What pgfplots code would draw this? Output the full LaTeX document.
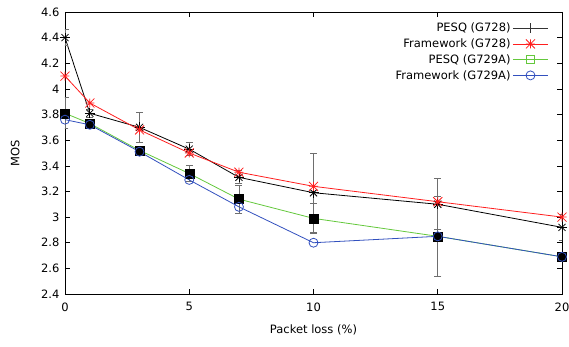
\documentclass[border=0pt]{standalone}
\usepackage{pgfplots}
\pgfplotsset{compat=1.18}
\usepackage{fontspec}
\setmainfont{DejaVu Sans}
\definecolor{cred}{RGB}{255,30,30}
\definecolor{cgreen}{RGB}{100,200,60}
\definecolor{cblue}{RGB}{50,80,190}
\definecolor{cerr}{RGB}{110,110,110}
\pgfdeclareplotmark{ast8}{%
  \pgfpathmoveto{\pgfqpoint{-\pgfplotmarksize}{0pt}}\pgfpathlineto{\pgfqpoint{\pgfplotmarksize}{0pt}}%
  \pgfpathmoveto{\pgfqpoint{0pt}{-\pgfplotmarksize}}\pgfpathlineto{\pgfqpoint{0pt}{\pgfplotmarksize}}%
  \pgfpathmoveto{\pgfqpoint{-\pgfplotmarksize}{-\pgfplotmarksize}}\pgfpathlineto{\pgfqpoint{\pgfplotmarksize}{\pgfplotmarksize}}%
  \pgfpathmoveto{\pgfqpoint{-\pgfplotmarksize}{\pgfplotmarksize}}\pgfpathlineto{\pgfqpoint{\pgfplotmarksize}{-\pgfplotmarksize}}%
  \pgfusepathqstroke}
\pgfplotstableread{
x y e
0 4.40 0.06
1 3.81 0.03
3 3.70 0.12
5 3.53 0.05
7 3.31 0.05
10 3.19 0.31
15 3.10 0.20
20 2.92 0.10
}\pesqA
\pgfplotstableread{
x y e
0 3.81 0.12
1 3.73 0.02
3 3.52 0.03
5 3.34 0.06
7 3.14 0.11
10 2.99 0.12
15 2.85 0.31
20 2.69 0.03
}\pesqB
\pgfplotstableread{
x y
0 4.10
1 3.89
3 3.68
5 3.50
7 3.35
10 3.24
15 3.12
20 3.00
}\fwA
\pgfplotstableread{
x y
0 3.76
1 3.72
3 3.51
5 3.29
7 3.08
10 2.80
15 2.85
20 2.69
}\fwB
\begin{document}
\begin{tikzpicture}
\begin{axis}[name=ax, at={(0,0)}, anchor=south west, scale only axis,
  width=497pt, height=282pt,
  xmin=0, xmax=20, ymin=2.4, ymax=4.6,
  xtick={0,5,10,15,20},
  ytick={2.4,2.6,2.8,3,3.2,3.4,3.6,3.8,4,4.2,4.4,4.6},
  tick align=inside, major tick length=5pt,
  tick style={black, line width=0.6pt},
  axis line style={line width=0.9pt},
  /pgf/number format/assume math mode=true,
  tick label style={font=\fontsize{11.5}{13}\selectfont},
  xticklabel style={yshift=-5pt},
  yticklabel style={xshift=-2pt},
  label style={font=\fontsize{11.5}{13}\selectfont},
  xlabel={Packet loss (\%)}, ylabel={MOS},
  xlabel style={at={(axis description cs:0.5,-0.128)}, anchor=center},
  ylabel style={at={(axis description cs:-0.1,0.5)}, anchor=center},
  legend style={draw=none, fill=none, at={(axis description cs:0.975,0.972)}, anchor=north east,
    font=\fontsize{11.5}{13}\selectfont, row sep=1.5pt, inner sep=1pt},
  legend cell align=right, legend plot pos=right,
  legend image code/.code={\draw[mark repeat=2,mark phase=2,#1] plot coordinates {(0pt,0pt) (17.5pt,0pt) (35pt,0pt)};},
]
\addlegendimage{black!80, line width=0.8pt, mark=+, mark size=5pt, mark options={solid}}
\addlegendentry{PESQ (G728)}
\addlegendimage{cred, line width=0.8pt, mark=ast8, mark size=4.5pt}
\addlegendentry{Framework (G728)}
\addlegendimage{cgreen, line width=0.8pt, mark=square, mark size=4pt}
\addlegendentry{PESQ (G729A)}
\addlegendimage{cblue, line width=0.8pt, mark=o, mark size=4.5pt}
\addlegendentry{Framework (G729A)}

\addplot[forget plot, cgreen, line width=0.8pt, mark=square, mark size=4pt] table[x=x,y=y] {\pesqB};
\addplot[forget plot, only marks, mark=square*, mark size=4.5pt, mark options={fill=black, draw=black},
  error bars/.cd, y dir=both, y explicit,
  error bar style={cerr, line width=0.9pt},
  error mark options={rotate=90, mark size=3.5pt, cerr, line width=0.9pt}]
  table[x=x,y=y,y error=e] {\pesqB};
\addplot[forget plot, cblue, line width=0.8pt, mark=o, mark size=4.5pt] table[x=x,y=y] {\fwB};
\addplot[forget plot, black, line width=0.8pt, mark=+, mark size=5pt] table[x=x,y=y] {\pesqA};
\addplot[forget plot, only marks, mark=x, mark size=5pt, mark options={black, line width=0.8pt},
  error bars/.cd, y dir=both, y explicit,
  error bar style={cerr, line width=0.9pt},
  error mark options={rotate=90, mark size=3.5pt, cerr, line width=0.9pt}]
  table[x=x,y=y,y error=e] {\pesqA};
\addplot[forget plot, cred, line width=0.8pt, mark=ast8, mark size=4.5pt] table[x=x,y=y] {\fwA};
\end{axis}
\pgfresetboundingbox
\useasboundingbox (-65pt,-53pt) rectangle (504pt,294pt);
\end{tikzpicture}
\end{document}
